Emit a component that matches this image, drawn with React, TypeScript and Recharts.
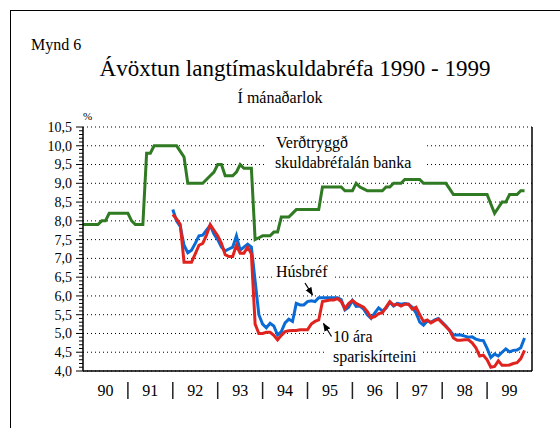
import { LineChart, Line, XAxis, YAxis, CartesianGrid, ReferenceLine } from "recharts";

// ávöxtun í mánaðarlok, jan 1990 - nóv 1999 (mánuður 0 = jan 1990)
const YEARS = ["90", "91", "92", "93", "94", "95", "96", "97", "98", "99"];
const Y_MAJOR = [4.0, 4.5, 5.0, 5.5, 6.0, 6.5, 7.0, 7.5, 8.0, 8.5, 9.0, 9.5, 10.0, 10.5];

// Verðtryggð skuldabréfalán banka
const VERD = [
  7.9, 7.9, 7.9, 7.9, 7.9, 8.0, 8.0, 8.2, 8.2, 8.2, 8.2, 8.2,
  8.2, 8.0, 7.9, 7.9, 7.9, 9.8, 9.8, 10.0, 10.0, 10.0, 10.0, 10.0,
  10.0, 10.0, 9.85, 9.7, 9.0, 9.0, 9.0, 9.0, 9.0, 9.1, 9.2, 9.3,
  9.5, 9.5, 9.2, 9.2, 9.2, 9.3, 9.5, 9.4, 9.4, 9.4, 7.5, 7.55,
  7.6, 7.6, 7.6, 7.7, 7.7, 8.1, 8.1, 8.1, 8.2, 8.3, 8.3, 8.3,
  8.3, 8.3, 8.3, 8.3, 8.9, 8.9, 8.9, 8.9, 8.9, 8.9, 8.8, 8.8,
  8.8, 9.0, 8.9, 8.85, 8.8, 8.8, 8.8, 8.8, 8.8, 8.9, 8.9, 9.0,
  9.0, 9.0, 9.1, 9.1, 9.1, 9.1, 9.1, 9.0, 9.0, 9.0, 9.0, 9.0,
  9.0, 9.0, 8.85, 8.7, 8.7, 8.7, 8.7, 8.7, 8.7, 8.7, 8.7, 8.7,
  8.7, 8.45, 8.2, 8.35, 8.5, 8.5, 8.7, 8.7, 8.7, 8.8, 8.8,
];

// Húsbréf og 10 ára spariskírteini byrja í jan 1992
const HUS_START = 24;
const HUS = [
  8.3, 8.0, 7.85, 7.35, 7.15, 7.22, 7.4, 7.6, 7.62, 7.75, 7.88, 7.65,
  7.5, 7.3, 7.2, 7.25, 7.3, 7.6, 7.22, 7.3, 7.38, 7.3, 6.4, 5.5,
  5.25, 5.15, 5.27, 5.2, 4.96, 5.05, 5.28, 5.38, 5.32, 5.8, 5.76, 5.76,
  5.85, 5.87, 5.85, 5.95, 5.95, 5.95, 5.95, 5.95, 5.95, 5.9, 5.63, 5.7,
  5.88, 5.72, 5.73, 5.65, 5.5, 5.4, 5.55, 5.68, 5.6, 5.67, 5.83, 5.73,
  5.8, 5.78, 5.8, 5.78, 5.7, 5.55, 5.3, 5.22, 5.33, 5.3, 5.36, 5.4,
  5.3, 5.2, 5.08, 4.96, 4.96, 4.96, 4.93, 4.9, 4.91, 4.85, 4.82, 4.81,
  4.6, 4.36, 4.45, 4.4, 4.5, 4.59, 4.51, 4.55, 4.56, 4.62, 4.88,
];
const SPARI = [
  8.17, 8.05, 7.9, 6.9, 6.9, 6.9, 7.12, 7.35, 7.4, 7.62, 7.9, 7.75,
  7.6, 7.4, 7.1, 7.05, 7.05, 7.35, 7.14, 7.14, 7.3, 7.12, 5.25, 5.0,
  5.0, 5.03, 5.03, 4.95, 4.83, 4.95, 5.05, 5.07, 5.08, 5.08, 5.1, 5.1,
  5.1, 5.25, 5.32, 5.36, 5.85, 5.87, 5.89, 5.89, 5.93, 5.85, 5.66, 5.8,
  5.88, 5.8, 5.75, 5.7, 5.58, 5.42, 5.45, 5.53, 5.55, 5.7, 5.85, 5.75,
  5.78, 5.73, 5.78, 5.78, 5.65, 5.7, 5.5, 5.32, 5.36, 5.28, 5.34, 5.38,
  5.28, 5.18, 5.08, 4.88, 4.82, 4.82, 4.83, 4.83, 4.75, 4.62, 4.4, 4.42,
  4.3, 4.1, 4.12, 4.27, 4.15, 4.15, 4.16, 4.2, 4.22, 4.33, 4.55,
];

const GREEN = "#2f7a22";
const BLUE = "#0b6bd6";
const RED = "#e0231f";
const FONT = "'Liberation Serif', serif";
const txt = { fontFamily: FONT };

const rows = VERD.map((v, i) => ({
  m: i,
  verd: v,
  hus: i >= HUS_START ? HUS[i - HUS_START] : null,
  spari: i >= HUS_START ? SPARI[i - HUS_START] : null,
}));

// tick every 0.1, labels only on the halves
const yTicks: number[] = [];
for (let k = 40; k <= 105; k++) yTicks.push(k / 10);

// ticks every half year: labels mid-year, separators at year boundaries
const xTicks: number[] = [];
for (let k = 1; k < YEARS.length * 2; k++) xTicks.push(k * 6);

function YTick({ x, y, payload }: any) {
  const v = payload.value as number;
  const major = Math.round(v * 10) % 5 === 0;
  return (
    <g>
      <line x1={x + (major ? 3 : 6)} x2={x + 10} y1={y} y2={y} stroke="#000" strokeWidth={1} />
      {major && (
        <text x={x - 1} y={y} dy="0.35em" textAnchor="end" fontSize={14} style={txt} fill="#000">
          {v.toFixed(1).replace(".", ",")}
        </text>
      )}
    </g>
  );
}

function XTick({ x, y, payload }: any) {
  const v = payload.value as number;
  if (v % 12 === 6) {
    return (
      <text x={x} y={y + 25} textAnchor="middle" fontSize={16} style={txt} fill="#000">
        {YEARS[Math.floor(v / 12)]}
      </text>
    );
  }
  return <line x1={x} x2={x} y1={y + 11} y2={y + 28} stroke="#222" strokeWidth={1.5} />;
}

export default function App() {
  return (
    <div
      style={{
        position: "absolute",
        left: 0,
        top: 0,
        width: 560,
        height: 428,
        overflow: "hidden",
        background: "#fff",
        fontFamily: FONT,
      }}
    >
      <LineChart width={560} height={428} data={rows} margin={{ top: 127, right: 28, bottom: 17, left: 43 }}>
        <CartesianGrid horizontal vertical={false} horizontalValues={Y_MAJOR} stroke="#000" strokeDasharray="1 3" />
        <XAxis
          type="number"
          dataKey="m"
          domain={[0, 120]}
          ticks={xTicks}
          interval={0}
          height={40}
          tickLine={false}
          tickSize={0}
          tickMargin={0}
          axisLine={{ stroke: "#000", strokeWidth: 1.5 }}
          tick={<XTick />}
        />
        <YAxis
          type="number"
          domain={[4, 10.5]}
          ticks={yTicks}
          interval={0}
          width={40}
          tickLine={false}
          tickSize={7}
          tickMargin={3}
          axisLine={{ stroke: "#000", strokeWidth: 1.5 }}
          tick={<YTick />}
        />
        <ReferenceLine x={120} stroke="#000" strokeWidth={1.5} />
        <Line dataKey="verd" stroke={GREEN} strokeWidth={3} dot={false} activeDot={false} isAnimationActive={false} />
        <Line dataKey="hus" stroke={BLUE} strokeWidth={3} dot={false} activeDot={false} isAnimationActive={false} />
        <Line dataKey="spari" stroke={RED} strokeWidth={3} dot={false} activeDot={false} isAnimationActive={false} />
      </LineChart>

      <svg
        width={560}
        height={428}
        style={{ position: "absolute", left: 0, top: 0, pointerEvents: "none", fontFamily: FONT }}
      >
        <defs>
          <marker id="arr" viewBox="0 0 10 10" refX="9" refY="5" markerWidth="7" markerHeight="7" orient="auto">
            <path d="M0,1 L10,5 L0,9 z" fill="#000" />
          </marker>
        </defs>
        <rect x={10.5} y={10.5} width={600} height={500} fill="none" stroke="#000" strokeWidth={1} />
        <text x={31} y={50} fontSize={16} style={txt}>Mynd 6</text>
        <text x={295} y={76} fontSize={23} textAnchor="middle" style={txt}>Ávöxtun langtímaskuldabréfa 1990 - 1999</text>
        <text x={280} y={103} fontSize={16} textAnchor="middle" style={txt}>Í mánaðarlok</text>
        <text x={83} y={120} fontSize={11} style={txt}>%</text>

        <rect x={266} y={133} width={161} height={40} fill="#fff" />
        <text x={276} y={148} fontSize={16} style={txt}>Verðtryggð</text>
        <text x={275} y={168} fontSize={16} style={txt}>skuldabréfalán banka</text>

        <rect x={272} y={264} width={61} height={18} fill="#fff" />
        <text x={276} y={277} fontSize={16} style={txt}>Húsbréf</text>
        <line x1={305} y1={283} x2={312.5} y2={295} stroke="#000" strokeWidth={1.2} markerEnd="url(#arr)" />

        <rect x={327} y={326} width={94} height={42} fill="#fff" />
        <text x={333} y={342} fontSize={16} style={txt}>10 ára</text>
        <text x={333} y={362} fontSize={16} style={txt}>spariskírteini</text>
        <line x1={331.5} y1={336.5} x2={323.5} y2={323.5} stroke="#000" strokeWidth={1.2} markerEnd="url(#arr)" />
      </svg>
    </div>
  );
}
